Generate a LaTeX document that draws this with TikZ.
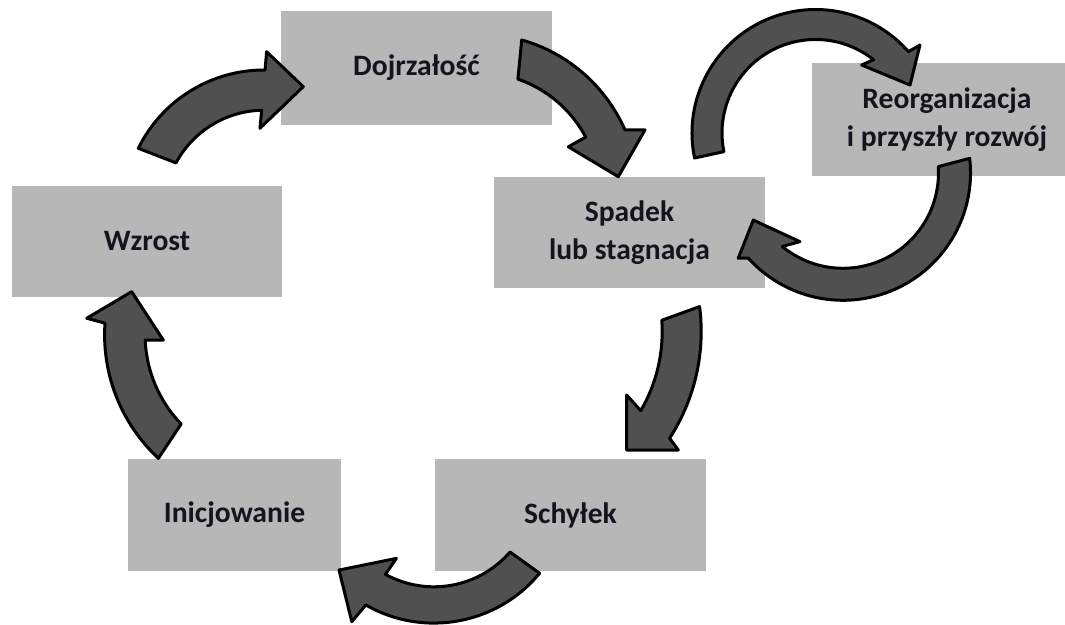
\documentclass[tikz,border=0pt]{standalone}
\usepackage{fontspec}
\setmainfont{Carlito}
\usetikzlibrary{calc}

\definecolor{boxgray}{RGB}{183,183,183}
\definecolor{arrowgray}{RGB}{80,80,80}
\definecolor{inkdark}{RGB}{20,20,30}

\tikzset{
  stage/.style={fill=boxgray, draw=none, inner sep=0pt, align=center,
    text=inkdark, font=\bfseries\fontsize{29.6}{38}\selectfont},
  blockarrow/.style={fill=arrowgray, draw=black, line width=3pt, line join=round}
}

\begin{document}
\begin{tikzpicture}[x=1pt, y=1pt]
  \useasboundingbox (0,0) rectangle (1065,624);
  \clip (0,0) rectangle (1065,624);
  \fill[white] (0,0) rectangle (1065,624);

  % stages of the cycle
  \node[stage, minimum width=271, minimum height=114] (dojr) at (416.5,556) {Dojrzałość};
  \node[stage, minimum width=270, minimum height=111] (wzrost) at (147,382.5) {Wzrost};
  \node[stage, minimum width=271, minimum height=111] (spadek) at (629.5,391.5) {Spadek\\lub stagnacja};
  \node[stage, minimum width=270, minimum height=113] (reorg) at (947,504.5) {Reorganizacja\\i przyszły rozwój};
  \node[stage, minimum width=213, minimum height=112] (inic) at (234.5,109) {Inicjowanie};
  \node[stage, minimum width=271, minimum height=112] (schylek) at (570.5,109) {Schyłek};

  % centres of the curved block arrows
  \coordinate (c1) at (264.1,413.8);
  \coordinate (c2) at (478,429.6);
  \coordinate (c3) at (815.5,491);
  \coordinate (c4) at (843,451.2);
  \coordinate (c5) at (505.2,292.5);
  \coordinate (c6) at (433.9,137.9);
  \coordinate (c7) at (273.1,289.1);

  % Wzrost -> Dojrzalosc
  \draw[blockarrow] ($(c1)+(153.8:140.2)$) arc[start angle=153.8, end angle=89.6, radius=140.2]
    -- ($(c1)+(89.1:158.5)$) -- ($(c1)+(72.4:129.6)$) -- ($(c1)+(92.9:82)$)
    -- ($(c1)+(91.4:100)$) arc[start angle=91.4, end angle=151.8, radius=100] -- cycle;

  % Dojrzalosc -> Spadek
  \draw[blockarrow] ($(c2)+(74.2:160.5)$) arc[start angle=74.2, end angle=23.7, radius=160.5]
    -- ($(c2)+(21.1:179)$) -- ($(c2)+(7.2:141.4)$) -- ($(c2)+(27.8:102.1)$)
    -- ($(c2)+(28:122)$) arc[start angle=28, end angle=70.9, radius=122] -- cycle;

  % Spadek -> Reorganizacja
  \draw[blockarrow] ($(c3)+(191.7:123.5)$) arc[start angle=191.7, end angle=41.2, radius=123.5]
    -- ($(c3)+(40.1:136.6)$) -- ($(c3)+(26.9:106)$) -- ($(c3)+(55.8:82.2)$)
    -- ($(c3)+(51.6:93.5)$) arc[start angle=51.6, end angle=191.5, radius=93.5] -- cycle;

  % Reorganizacja -> Spadek
  \draw[blockarrow] ($(c4)+(6.5:127.5)$) arc[start angle=6.5, end angle=-138, radius=127.5]
    -- ($(c4)+(-140.8:135.2)$) -- ($(c4)+(-152.2:101.4)$) -- ($(c4)+(-122:81.2)$)
    -- ($(c4)+(-129.5:95.5)$) arc[start angle=-129.5, end angle=3.7, radius=95.5] -- cycle;

  % Spadek -> Schylek
  \draw[blockarrow] ($(c5)+(7.3:196)$) arc[start angle=7.3, end angle=-33, radius=196]
    -- ($(c5)+(-34.4:209.8)$) -- ($(c5)+(-44.3:169.7)$) -- ($(c5)+(-27.6:137.1)$)
    -- ($(c5)+(-30.3:157)$) arc[start angle=-30.3, end angle=4.1, radius=157] -- cycle;

  % Schylek -> Inicjowanie
  \draw[blockarrow] ($(c6)+(-39.5:137)$) arc[start angle=-39.5, end angle=-119.8, radius=137]
    -- ($(c6)+(-121.2:158.5)$) -- ($(c6)+(-138.5:126.7)$) -- ($(c6)+(-117.4:81.4)$)
    -- ($(c6)+(-118.8:100.7)$) arc[start angle=-118.8, end angle=-40.9, radius=100.7] -- cycle;

  % Inicjowanie -> Wzrost
  \draw[blockarrow] ($(c7)+(227.1:168.5)$) arc[start angle=227.1, end angle=176, radius=168.5]
    -- ($(c7)+(174.9:187.1)$) -- ($(c7)+(163:147.9)$) -- ($(c7)+(182.7:109.9)$)
    -- ($(c7)+(182.3:128)$) arc[start angle=182.3, end angle=224.1, radius=128] -- cycle;
\end{tikzpicture}
\end{document}
